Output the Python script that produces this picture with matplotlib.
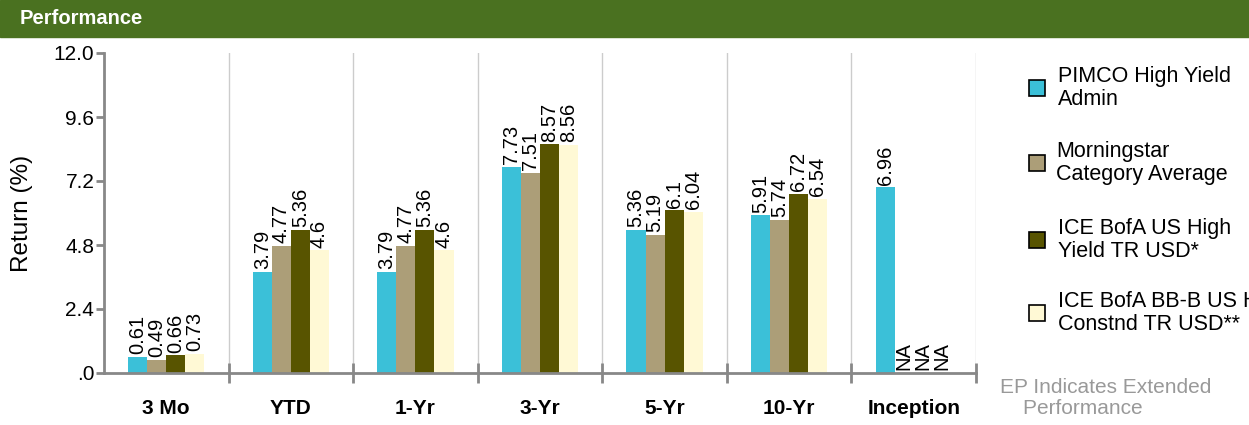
import numpy as np, matplotlib; matplotlib.use("Agg")
import matplotlib.pyplot as plt
from matplotlib.patches import Rectangle

periods = ["3 Mo", "YTD", "1-Yr", "3-Yr", "5-Yr", "10-Yr", "Inception"]
series = ["PIMCO High Yield\nAdmin", "Morningstar\nCategory Average",
          "ICE BofA US High\nYield TR USD*", "ICE BofA BB-B US High\nConstnd TR USD**"]
colors = ["#3bc0d8", "#ac9e78", "#585400", "#fff9d5"]
pimco = [0.61, 3.79, 3.79, 7.73, 5.36, 5.91, 6.96]
mstar = [0.49, 4.77, 4.77, 7.51, 5.19, 5.74, None]
ice_hy = [0.66, 5.36, 5.36, 8.57, 6.1, 6.72, None]
ice_bb = [0.73, 4.6, 4.6, 8.56, 6.04, 6.54, None]
values = [pimco, mstar, ice_hy, ice_bb]
yticks = [0, 2.4, 4.8, 7.2, 9.6, 12.0]
ytick_labels = [".0", "2.4", "4.8", "7.2", "9.6", "12.0"]

plt.rcParams["font.family"] = ["Liberation Sans", "DejaVu Sans"]
fig = plt.figure(figsize=(12.49, 4.25), dpi=100)

# header band
fig.add_artist(Rectangle((0, 1 - 37/425), 1, 37/425, transform=fig.transFigure, color="#4a7120", zorder=0))
fig.text(20/1249, 1 - 18/425, "Performance", color="white", fontsize=14.5, fontweight="bold", va="center")

ax = fig.add_axes([104/1249, 1 - 373/425, 872/1249, 320/425])
n = len(periods); bw = 0.153
x = np.arange(n)
for i, (vals, c) in enumerate(zip(values, colors)):
    xs = x - 1.5*bw + i*bw
    for xi, v in zip(xs, vals):
        if v is None:
            ax.text(xi, 0.1, "NA", rotation=90, ha="center", va="bottom", fontsize=14.5)
            continue
        ax.bar(xi, v, width=bw, color=c, zorder=2)
        ax.text(xi, v + 0.1, f"{v:g}", rotation=90, ha="center", va="bottom", fontsize=14.5)

ax.set_xlim(-0.5, n - 0.5); ax.set_ylim(0, 12)
for b in np.arange(0.5, n, 1):
    ax.axvline(b, color="#cccccc", lw=1, zorder=1)
ax.set_xticks(np.arange(0.5, n, 1)); ax.set_xticklabels([])
ax.tick_params(axis="x", length=14, width=2, color="#888888", direction="inout")
for xi, p in zip(x, periods):
    ax.text(xi, -0.11, p, transform=ax.get_xaxis_transform(), ha="center", va="center", fontsize=15, fontweight="bold")
ax.set_yticks(yticks); ax.set_yticklabels(ytick_labels, fontsize=15)
ax.tick_params(axis="y", length=6, width=2, color="#888888", pad=1)
for s in ["top", "right"]:
    ax.spines[s].set_visible(False)
for s in ["left", "bottom"]:
    ax.spines[s].set_color("#888888"); ax.spines[s].set_linewidth(2)
ax.set_ylabel("Return (%)", fontsize=17.5, labelpad=15)

# legend
for i, (lab, c) in enumerate(zip(series, colors)):
    y = 1 - [88, 163, 240, 313][i]/425
    fig.add_artist(Rectangle((1029/1249, y - 8/425), 16/1249, 16/425, transform=fig.transFigure,
                             facecolor=c, edgecolor="black", lw=1.2))
    fig.text(1058/1249 if i != 1 else 1056/1249, y, lab, fontsize=15.5, va="center", linespacing=1.12)
fig.text(1000/1249, 1 - 398/425, "EP Indicates Extended\n    Performance", fontsize=15, color="#999999",
         va="center", linespacing=1.1)

fig.savefig("out.png", dpi=100)
